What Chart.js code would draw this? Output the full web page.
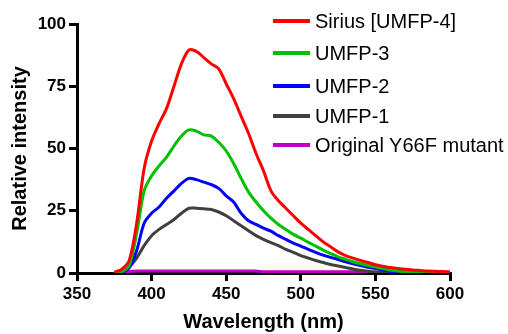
<!DOCTYPE html>
<html>
<head>
<meta charset="utf-8">
<script src="https://cdn.jsdelivr.net/npm/chart.js@4"></script>
<style>
  html, body { margin: 0; padding: 0; background: #fff; }
  #wrap { position: relative; width: 508px; height: 334px; }
  #legend { position: absolute; left: 0; top: 0; font: 20px "Liberation Sans", Arial, sans-serif; color: #000; }
  .item { position: absolute; white-space: nowrap; height: 20px; line-height: 20px; }
  .item span.sw { position: absolute; left: 273px; top: 8px; width: 37px; height: 4px; }
  .item span.lb { position: absolute; left: 315px; top: 0; }
</style>
</head>
<body>
<div id="wrap">
  <canvas id="c" width="508" height="334"></canvas>
  <div id="legend"></div>
</div>
<script>
// wavelength (nm), every 5 nm
const wavelengths = [375, 380, 385, 390, 395, 400, 405, 410, 415, 420, 425, 430, 435, 440, 445, 450,
    455, 460, 465, 470, 475, 480, 485, 490, 495, 500, 505, 510, 515, 520, 525, 530, 535, 540, 545,
    550, 555, 560, 565, 570, 575, 580, 585, 590, 595, 600];

const sirius = [0.3, 1.5, 5, 20, 42, 53, 60, 66, 75, 84, 89.5, 89, 86.5, 84, 82, 76,
    70, 63, 56, 48, 41, 33, 29, 26, 23, 20, 17.5, 15, 12.5, 10.5, 8.5, 7, 6, 5, 4.2,
    3.3, 2.7, 2.2, 1.8, 1.5, 1.2, 1, 0.8, 0.7, 0.6, 0.5];
const umfp3 = [0, 0.5, 3, 16, 33, 39, 43, 46.5, 51, 55, 57.5, 57, 55.5, 55, 52.5, 49,
    44, 38, 32.5, 28.5, 25, 22, 19.5, 17.5, 15.5, 14, 12.3, 10.8, 9.2, 7.8, 6.5, 5.5, 4.5, 3.7, 3,
    2.4, 1.8, 1.2, 0.8, 0.5, 0.3, 0.2, 0.1, 0.1, 0.1, 0.1];
const umfp2 = [0, 0.3, 2, 9, 20, 24, 26.5, 30, 33, 36, 38, 37.5, 36.5, 35.5, 34, 31,
    28.5, 24, 21, 19.5, 18, 16.8, 15, 13.5, 12, 10.8, 9.5, 8.3, 7.2, 6.3, 5.4, 4.5, 3.7, 3, 2.3,
    1.8, 1.2, 0.7, 0.4, 0.2, 0.1, 0.1, 0.1, 0.1, 0.1, 0.1];
const umfp1 = [0, 0.2, 2.5, 6, 11, 15, 17.5, 19.5, 21.5, 24, 26, 26, 25.8, 25.5, 24.5, 23,
    21, 19, 17, 15, 13.5, 12.2, 11, 9.5, 8.3, 7, 6, 5, 4.2, 3.4, 2.8, 2.2, 1.6, 1.1, 0.7,
    0.4, 0.2, 0.1, 0.1, 0.1, 0.1, 0.1, 0.1, 0.1, 0.1, 0.1];
const y66f = [0, 0.2, 0.6, 0.8, 0.8, 0.8, 0.8, 0.8, 0.8, 0.8, 0.8, 0.8, 0.8, 0.8, 0.8, 0.8,
    0.8, 0.8, 0.8, 0.8, 0.5, 0.5, 0.5, 0.5, 0.5, 0.5, 0.5, 0.5, 0.5, 0.5, 0.5, 0.5, 0.5, 0.5, 0.3,
    0.3, 0.2, 0.2, 0.1, 0.1, 0.1, 0.1, 0.1, 0.1, 0.1, 0.1];

const seriesNames = ["Sirius [UMFP-4]", "UMFP-3", "UMFP-2", "UMFP-1", "Original Y66F mutant"];
const seriesValues = [sirius, umfp3, umfp2, umfp1, y66f];
const seriesColors = ["#ff0000", "#00c000", "#0000ff", "#404040", "#c000c0"];

const xTicks = [350, 400, 450, 500, 550, 600];
const yTicks = [0, 25, 50, 75, 100];

const FONT = '"Liberation Sans", Arial, sans-serif';

/* legend (overlaps the plot, like the original) */
const legendRows = [21, 53, 86, 116, 145];
const legend = document.getElementById("legend");
seriesNames.forEach((name, i) => {
    const it = document.createElement("div");
    it.className = "item";
    it.style.top = (legendRows[i] - 10) + "px";
    it.innerHTML = '<span class="sw" style="background:' + seriesColors[i] + '"></span>' +
        '<span class="lb">' + name + '</span>';
    legend.appendChild(it);
});

const datasets = seriesNames.map((name, i) => ({
    label: name,
    data: wavelengths.map((w, j) => ({ x: w, y: seriesValues[i][j] })),
    borderColor: seriesColors[i],
    backgroundColor: seriesColors[i],
    borderWidth: 3,
    pointRadius: 0,
    tension: 0.3,
    fill: false
}));

new Chart(document.getElementById("c"), {
    type: "line",
    data: { datasets },
    options: {
        responsive: false,
        animation: false,
        layout: { padding: { left: 0, right: 58, top: 24, bottom: 0 } },
        plugins: { legend: { display: false }, tooltip: { enabled: false } },
        scales: {
            x: {
                type: "linear",
                min: 350, max: 600,
                afterFit: s => { s.height = 61; },
                afterBuildTicks: s => { s.ticks = xTicks.map(v => ({ value: v })); },
                border: { display: true, color: "#000", width: 3 },
                grid: { drawOnChartArea: false, drawTicks: true, tickLength: 8, color: "#000", lineWidth: 3 },
                ticks: { color: "#000", font: { family: FONT, size: 17, weight: "bold" }, padding: 3, maxRotation: 0 },
                title: { display: true, text: "Wavelength (nm)", color: "#000",
                    font: { family: FONT, size: 20, weight: "bold" }, padding: { top: 0, bottom: 0 } }
            },
            y: {
                min: 0, max: 100,
                afterFit: s => { s.width = 77; },
                afterBuildTicks: s => { s.ticks = yTicks.map(v => ({ value: v })); },
                border: { display: true, color: "#000", width: 3 },
                grid: { drawOnChartArea: false, drawTicks: true, tickLength: 8, color: "#000", lineWidth: 3 },
                ticks: { color: "#000", font: { family: FONT, size: 17, weight: "bold" }, padding: 3 },
                title: { display: true, text: "Relative intensity", color: "#000",
                    font: { family: FONT, size: 20, weight: "bold" }, padding: { top: 8, bottom: 0 } }
            }
        }
    }
});
</script>
</body>
</html>
